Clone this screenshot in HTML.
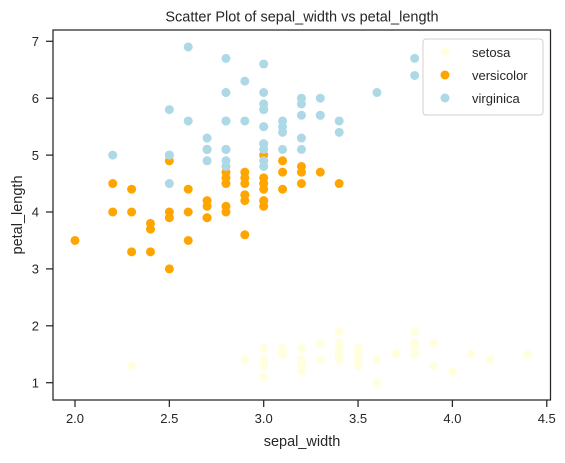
<!DOCTYPE html>
<html><head><meta charset="utf-8"><style>
html,body{margin:0;padding:0;background:#fff;}
svg text{font-family:"Liberation Sans",Arial,sans-serif;fill:#262626;}
</style></head><body>
<svg id="chart" width="565" height="458" viewBox="0 0 565 458" xmlns="http://www.w3.org/2000/svg">
<text x="302" y="21.5" font-size="14.5" text-anchor="middle">Scatter Plot of sepal_width vs petal_length</text>
<g id="points"></g>
<rect x="53" y="30" width="497.5" height="370" fill="none" stroke="#262626" stroke-width="1.25"/>
<g id="xticks"></g><g id="yticks"></g>
<text x="302" y="446" font-size="14.5" text-anchor="middle">sepal_width</text>
<text transform="translate(22,215) rotate(-90)" font-size="14.5" text-anchor="middle">petal_length</text>
<g>
<rect x="423" y="39" width="120" height="76" rx="3" fill="#fff" fill-opacity="0.8" stroke="#d0d0d0"/>
<g><circle cx="445" cy="52" r="4.5" fill="#ffffe0"/><text x="472" y="57" font-size="13">setosa</text></g>
<g><circle cx="445" cy="75" r="4.5" fill="#ffa500"/><text x="472" y="80" font-size="13">versicolor</text></g>
<g><circle cx="445" cy="98" r="4.5" fill="#add8e6"/><text x="472" y="103" font-size="13">virginica</text></g>
</g>
</svg>
<script>
const setosaX=[3.5,3.0,3.2,3.1,3.6,3.9,3.4,3.4,2.9,3.1,3.7,3.4,3.0,3.0,4.0,4.4,3.9,3.5,3.8,3.8,3.4,3.7,3.6,3.3,3.4,3.0,3.4,3.5,3.4,3.2,3.1,3.4,4.1,4.2,3.1,3.2,3.5,3.6,3.0,3.4,3.5,2.3,3.2,3.5,3.8,3.0,3.8,3.2,3.7,3.3];
const setosaY=[1.4,1.4,1.3,1.5,1.4,1.7,1.4,1.5,1.4,1.5,1.5,1.6,1.4,1.1,1.2,1.5,1.3,1.4,1.7,1.5,1.7,1.5,1.0,1.7,1.9,1.6,1.6,1.5,1.4,1.6,1.6,1.5,1.5,1.4,1.5,1.2,1.3,1.4,1.3,1.5,1.3,1.3,1.3,1.6,1.9,1.4,1.6,1.4,1.5,1.4];
const versicolorX=[3.2,3.2,3.1,2.3,2.8,2.8,3.3,2.4,2.9,2.7,2.0,3.0,2.2,2.9,2.9,3.1,3.0,2.7,2.2,2.5,3.2,2.8,2.5,2.8,2.9,3.0,2.8,3.0,2.9,2.6,2.4,2.4,2.7,2.7,3.0,3.4,3.1,2.3,3.0,2.5,2.6,3.0,2.6,2.3,2.7,3.0,2.9,2.9,2.5,2.8];
const versicolorY=[4.7,4.5,4.9,4.0,4.6,4.5,4.7,3.3,4.6,3.9,3.5,4.2,4.0,4.7,3.6,4.4,4.5,4.1,4.5,3.9,4.8,4.0,4.9,4.7,4.3,4.4,4.8,5.0,4.5,3.5,3.8,3.7,3.9,5.1,4.5,4.5,4.7,4.4,4.1,4.0,4.4,4.6,4.0,3.3,4.2,4.2,4.2,4.3,3.0,4.1];
const virginicaX=[3.3,2.7,3.0,2.9,3.0,3.0,2.5,2.9,2.5,3.6,3.2,2.7,3.0,2.5,2.8,3.2,3.0,3.8,2.6,2.2,3.2,2.8,2.8,2.7,3.3,3.2,2.8,3.0,2.8,3.0,2.8,3.8,2.8,2.8,2.6,3.0,3.4,3.1,3.0,3.1,3.1,3.1,2.7,3.2,3.3,3.0,2.5,3.0,3.4,3.0];
const virginicaY=[6.0,5.1,5.9,5.6,5.8,6.6,4.5,6.3,5.8,6.1,5.1,5.3,5.5,5.0,5.1,5.3,5.5,6.7,6.9,5.0,5.7,4.9,6.7,4.9,5.7,6.0,4.8,4.9,5.6,5.8,6.1,6.4,5.6,5.1,5.6,6.1,5.6,5.5,4.8,5.4,5.6,5.1,5.1,5.9,5.7,5.2,5.0,5.2,5.4,5.1];
const xTicks=["2.0","2.5","3.0","3.5","4.0","4.5"];
const yTicks=["1","2","3","4","5","6","7"];
const NS="http://www.w3.org/2000/svg";
function xs(v){return 75+(v-2.0)*188.7;}
function ys(v){return 382.7-(v-1)*56.9;}
const pts=document.getElementById('points');
function series(X,Y,color,name){
  for(let i=0;i<X.length;i++){
    const c=document.createElementNS(NS,'circle');
    c.setAttribute('cx',xs(X[i]));c.setAttribute('cy',ys(Y[i]));c.setAttribute('r',4.5);c.setAttribute('fill',color);
    
    
    pts.appendChild(c);
  }
}
series(setosaX,setosaY,'#ffffe0','setosa');
series(versicolorX,versicolorY,'#ffa500','versicolor');
series(virginicaX,virginicaY,'#add8e6','virginica');
const xg=document.getElementById('xticks');
xTicks.forEach(t=>{
  const x=xs(parseFloat(t));
  const l=document.createElementNS(NS,'line');
  l.setAttribute('x1',x);l.setAttribute('x2',x);l.setAttribute('y1',400);l.setAttribute('y2',407);l.setAttribute('stroke','#262626');l.setAttribute('stroke-width','1.25');
  
  
  xg.appendChild(l);
  const tx=document.createElementNS(NS,'text');
  tx.setAttribute('x',x);tx.setAttribute('y',423);tx.setAttribute('font-size','13');tx.setAttribute('text-anchor','middle');tx.textContent=t;
  
  
  xg.appendChild(tx);
});
const yg=document.getElementById('yticks');
yTicks.forEach(t=>{
  const y=ys(parseFloat(t));
  const l=document.createElementNS(NS,'line');
  l.setAttribute('x1',46);l.setAttribute('x2',53);l.setAttribute('y1',y);l.setAttribute('y2',y);l.setAttribute('stroke','#262626');l.setAttribute('stroke-width','1.25');
  
  
  yg.appendChild(l);
  const tx=document.createElementNS(NS,'text');
  tx.setAttribute('x',39);tx.setAttribute('y',y+4.7);tx.setAttribute('font-size','13');tx.setAttribute('text-anchor','end');tx.textContent=t;
  
  
  yg.appendChild(tx);
});
</script>
</body></html>
